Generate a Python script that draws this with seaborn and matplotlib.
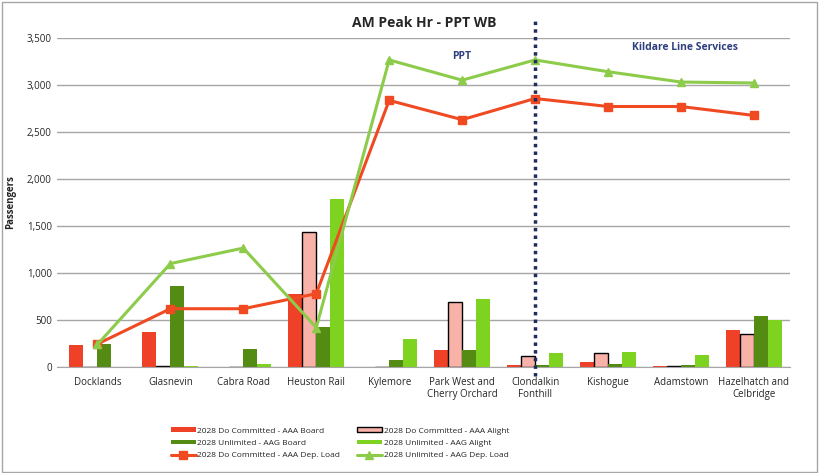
import numpy as np
import pandas as pd
import seaborn as sns
import matplotlib.pyplot as plt
from matplotlib.patches import Rectangle

# station names and values
stations = ['Docklands', 'Glasnevin', 'Cabra Road', 'Heuston Rail', 'Kylemore',
            'Park West and\nCherry Orchard', 'Clondalkin\nFonthill', 'Kishogue',
            'Adamstown', 'Hazelhatch and\nCelbridge']
aaa_board = [234, 372, 0, 777, 0, 180, 20, 53, 10, 394]
aaa_alight = [0, 10, 0, 1436, 0, 691, 117, 149, 15, 352]
aag_board = [245, 862, 191, 425, 75, 180, 20, 30, 20, 543]
aag_alight = [0, 10, 30, 1787, 298, 723, 150, 160, 128, 500]
aaa_load = [245, 620, 620, 780, 2835, 2630, 2855, 2770, 2770, 2675]
aag_load = [240, 1100, 1265, 420, 3265, 3050, 3265, 3140, 3030, 3020]

series = ['2028 Do Committed - AAA Board', '2028 Do Committed - AAA Alight',
          '2028 Unlimited - AAG Board', '2028 Unlimited - AAG Alight']
bar_colors = ['#EE4127', '#F8B2A8', '#548B12', '#7ED321']

rows = []
for name, vals in zip(series, [aaa_board, aaa_alight, aag_board, aag_alight]):
    for st, v in zip(stations, vals):
        rows.append({'Station': st, 'Series': name, 'Passengers': v})
df = pd.DataFrame(rows)

sns.set_style('white')
plt.rcParams['font.family'] = ['Open Sans', 'DejaVu Sans']

fig = plt.figure(figsize=(8.19, 4.73), dpi=100)
ax = fig.add_axes([0.07, 0.224, 0.895, 0.696])

sns.barplot(data=df, x='Station', y='Passengers', hue='Series', palette=bar_colors,
            width=0.77, saturation=1, ax=ax, legend=False, linewidth=0, errorbar=None)

# black outline for the AAA alight bars
for bar in ax.containers[1]:
    bar.set_edgecolor('black')
    bar.set_linewidth(1.0)

xpos = np.arange(len(stations))
l1, = ax.plot(xpos, aaa_load, color='#F04A23', lw=2.2, marker='s', ms=6, zorder=4)
l2, = ax.plot(xpos, aag_load, color='#8DCB4A', lw=2.2, marker='^', ms=6, zorder=4)

ax.set_ylim(0, 3500)
ax.set_xlim(-0.55, 9.5)
ax.set_yticks(range(0, 3501, 500))
ax.set_yticklabels([f'{v:,}' for v in range(0, 3501, 500)], fontsize=7)
ax.tick_params(axis='x', labelsize=7, length=0, pad=7)
ax.tick_params(axis='y', length=0, pad=4)
ax.yaxis.grid(True, color='#A6A6A6', lw=1)
ax.set_axisbelow(True)
for s in ['top', 'right', 'left']:
    ax.spines[s].set_visible(False)
ax.spines['bottom'].set_color('#A6A6A6')
ax.set_xlabel('')
ax.set_ylabel('Passengers', fontsize=7, fontweight='bold', labelpad=8)

ax.set_title('AM Peak Hr - PPT WB', fontsize=10, fontweight='bold', pad=8)

# dotted separator and section labels
ax.plot([6, 6], [-90, 3720], color='#1F2D5E', lw=2.5, ls=(0, (1, 1.2)),
        clip_on=False, zorder=5)
ax.text(5, 3270, 'PPT', color='#2E3F7F', fontsize=7.5, fontweight='bold', ha='center')
ax.text(8.05, 3370, 'Kildare Line Services', color='#2E3F7F', fontsize=7.5,
        fontweight='bold', ha='center')

# legend, row-wise order with two columns
h = [ax.containers[0][0], ax.containers[2][0], l1,
     ax.containers[1][0], ax.containers[3][0], l2]
labels = [series[0], series[2], '2028 Do Committed - AAA Dep. Load',
          series[1], series[3], '2028 Unlimited - AAG Dep. Load']
fig.legend(h, labels, loc='center', bbox_to_anchor=(0.415, 0.063), ncol=2,
           frameon=False, fontsize=6, handlelength=3.0, handleheight=0.5,
           columnspacing=2.0, labelspacing=0.6, handletextpad=0.2)

fig.add_artist(Rectangle((0.002, 0.002), 0.996, 0.994, transform=fig.transFigure,
                         fill=False, edgecolor='#A6A6A6', lw=1))

fig.savefig('out.png', dpi=100)
